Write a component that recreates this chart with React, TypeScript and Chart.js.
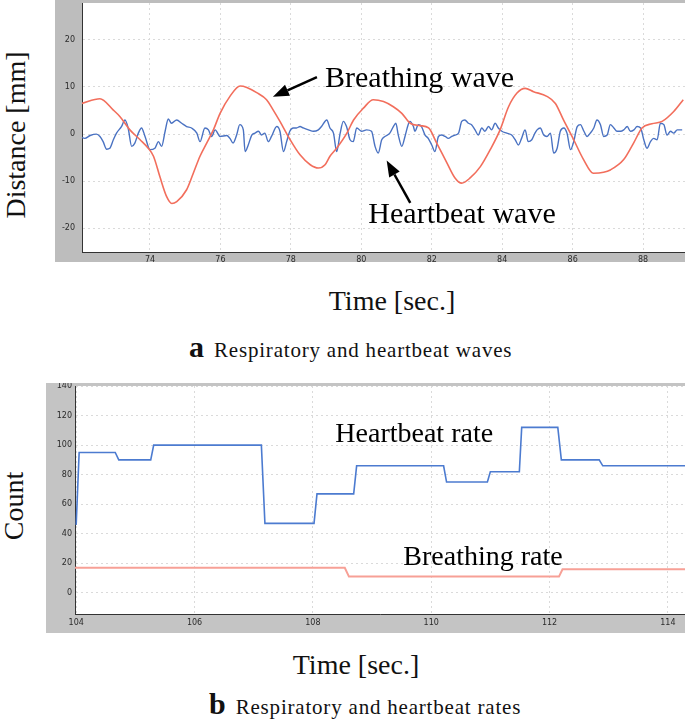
import { useEffect, useRef } from 'react';
import { Chart, registerables, type Plugin } from 'chart.js';

Chart.register(...registerables);

// (a) waves: time [s] against distance [mm]
const breathWaveT = [
  72.06, 72.58, 72.96, 73.15, 73.43, 73.72, 73.95, 74.1, 74.28, 74.47, 74.62, 74.76, 75.04, 75.23,
  75.42, 75.61, 75.8, 75.99, 76.27, 76.56, 76.75, 77.03, 77.31, 77.5, 77.69, 77.98, 78.26, 78.55,
  78.78, 78.97, 79.11, 79.3, 79.59, 79.78, 80.06, 80.34, 80.63, 80.91, 81.15, 81.39, 81.67, 81.91,
  82.14, 82.43, 82.66, 82.85, 83.09, 83.38, 83.66, 83.94, 84.18, 84.42, 84.65, 84.89, 85.27, 85.51,
  85.74, 86.03, 86.31, 86.59, 86.88, 87.07, 87.45, 87.73, 87.97, 88.25, 88.54, 88.87, 89.14,
];
const breathWaveV = [
  6.5, 7.5, 5.1, 3.7, 0.9, -1.2, -3.0, -4.7, -9.0, -13.2, -14.7, -14.3, -11.8, -8.3,
  -4.7, -1.9, 0.9, 4.4, 8.0, 10.2, 9.9, 8.8, 7.3, 5.1, 2.7, -1.2, -4.4, -6.5,
  -7.2, -6.5, -4.7, -3.0, 0.2, 3.0, 5.5, 7.3, 6.9, 5.8, 4.4, 2.3, 1.8, 1.3,
  -1.9, -6.1, -9.3, -10.4, -9.3, -6.9, -3.3, 0.9, 5.8, 8.7, 9.7, 9.0, 8.0, 6.5,
  3.0, -1.2, -5.4, -8.3, -8.1, -7.6, -5.4, -1.9, 1.3, 2.2, 2.7, 4.8, 7.3,
];

const heartWaveT = [
  72.01, 72.15, 72.3, 72.48, 72.58, 72.67, 72.77, 72.86, 72.96, 73.05, 73.19, 73.29, 73.38, 73.48,
  73.57, 73.67, 73.76, 73.86, 74.0, 74.14, 74.24, 74.33, 74.43, 74.52, 74.61, 74.76, 74.9, 75.04,
  75.18, 75.33, 75.42, 75.56, 75.66, 75.75, 75.85, 75.99, 76.18,
  76.27, 76.36, 76.46, 76.55, 76.65, 76.7, 76.79, 76.89, 76.98, 77.08, 77.17, 77.26, 77.36, 77.45,
  77.6, 77.69, 77.79, 77.88, 77.97, 78.07, 78.16, 78.26, 78.35, 78.5, 78.64, 78.78, 78.87, 79.02,
  79.11, 79.21, 79.3, 79.4, 79.49, 79.58, 79.68, 79.77, 79.87, 80.01, 80.15, 80.29, 80.39, 80.48,
  80.58, 80.67,
  80.81, 80.91, 80.98, 81.05, 81.15, 81.24, 81.33, 81.38, 81.48, 81.52, 81.62, 81.71, 81.81, 81.9,
  82.0, 82.09, 82.19, 82.28, 82.38, 82.47, 82.57, 82.66, 82.76, 82.85, 82.94, 83.04, 83.13, 83.23,
  83.32, 83.42, 83.51, 83.61, 83.7, 83.8, 83.89, 83.99, 84.13, 84.27, 84.37, 84.46, 84.55, 84.65,
  84.74, 84.84, 84.93,
  84.99, 85.08, 85.18, 85.27, 85.37, 85.46, 85.56, 85.65, 85.75, 85.84, 85.94, 86.03, 86.13, 86.22,
  86.32, 86.41, 86.5, 86.6, 86.69, 86.79, 86.88, 86.98, 87.07, 87.17, 87.26, 87.36, 87.45, 87.55,
  87.64, 87.74, 87.83, 87.93, 88.02, 88.11, 88.21, 88.3, 88.4, 88.49, 88.59, 88.68, 88.78, 88.87,
  88.97, 89.11,
];
const heartWaveV = [
  -0.5, -0.9, -0.3, 0.0, -0.5, -1.6, -3.2, -3.0, -1.2, 0.2, 1.6, 3.0, 1.3, -2.6,
  -1.9, 0.2, 1.3, -0.5, -3.3, -3.0, -1.6, -2.6, 0.6, 3.2, 2.3, 3.0, 2.3, 1.6,
  1.3, 0.2, -1.6, 1.3, 0.9, -0.5, 0.9, -0.5, -0.3,
  -0.9, -1.9, -0.2, 2.0, 0.9, -3.7, -2.3, -0.2, 0.2, 0.6, -0.2, 0.2, -1.6, -0.5,
  1.6, 0.6, -3.7, -1.6, 0.6, 1.3, 1.3, 1.6, 1.3, 0.9, 0.6, 0.9, 1.6, 3.0,
  1.3, 0.2, -3.7, 0.2, 2.7, 1.6, -1.2, -1.6, 1.3, 0.6, 0.9, 0.6, -2.6, -4.0,
  -1.2, -0.5,
  0.2, 1.6, 2.3, -0.2, -2.6, -0.5, 2.0, 2.7, 1.6, 0.6, 2.0, 1.6, -0.2, -0.9,
  -2.3, -3.7, -0.5, -0.2, -0.5, -0.9, -0.5, -0.2, 0.2, 2.7, 3.0, 2.3, 2.0, 0.9,
  -0.2, 1.3, 0.6, 1.6, 0.9, 2.3, 1.3, 0.6, 0.2, -0.2, -1.2, -2.3, -0.9, 0.9,
  -1.6, -1.2, 0.2,
  0.9, 1.3, -0.2, -0.5, 0.2, -4.0, -3.0, 0.6, 1.3, 0.2, -3.3, -1.6, 1.6, 2.0,
  0.6, -0.5, 0.2, 1.3, 3.0, 2.0, -0.5, -0.2, 2.0, 1.3, 0.6, 0.6, 0.9, 1.6,
  0.6, 0.9, 1.6, 1.3, -1.2, -3.0, -1.6, -0.9, -1.2, 2.3, 2.0, -0.2, 0.6, 0.2,
  0.9, 0.9,
];
const waveXTicks = [74, 76, 78, 80, 82, 84, 86, 88];
const waveYTicks = [-20, -10, 0, 10, 20];

// (b) rates: time [s] against count
const heartRateT = [
  104.0, 104.05, 104.66, 104.72, 105.26, 105.31, 107.13, 107.19, 108.02, 108.07, 108.69, 108.74,
  110.21, 110.26, 110.95, 111.0, 111.49, 111.53, 112.14, 112.2, 112.84, 112.9, 114.3,
];
const heartRateV = [46, 95, 95, 90, 90, 100, 100, 47, 47, 67, 67, 86, 86, 75, 75, 82, 82, 112, 112, 90, 90, 86, 86];
const breathRateT = [103.98, 108.54, 108.61, 112.16, 112.22, 114.3];
const breathRateV = [17, 17, 11, 11, 16, 16];
const rateXTicks = [104, 106, 108, 110, 112, 114];
const rateYTicks = [0, 20, 40, 60, 80, 100, 120, 140];

type Note = { text: string; x: number; y: number; arrow?: [number, number, number, number] };

const waveNotes: Note[] = [
  { text: 'Breathing wave', x: 78.97, y: 9.9, arrow: [78.74, 12.1, 77.49, 7.9] },
  { text: 'Heartbeat wave', x: 80.2, y: -18.75, arrow: [81.39, -14.6, 80.72, -5.6] },
];
const rateNotes: Note[] = [
  { text: 'Heartbeat rate', x: 108.38, y: 102.3 },
  { text: 'Breathing rate', x: 109.53, y: 18.8 },
];

const serif = '"Liberation Serif", "Times New Roman", serif';

const framePlugin = (gray: string): Plugin => ({
  id: 'frame',
  beforeDraw(chart) {
    const { ctx, chartArea: a, width, height } = chart;
    ctx.save();
    ctx.fillStyle = gray;
    ctx.fillRect(0, 0, width, height);
    ctx.fillStyle = '#fff';
    ctx.fillRect(a.left, a.top, a.right - a.left, a.bottom - a.top);
    ctx.restore();
  },
});

const notesPlugin = (notes: Note[], size: number): Plugin => ({
  id: 'notes',
  afterDatasetsDraw(chart) {
    const { ctx } = chart;
    const x = chart.scales.x;
    const y = chart.scales.y;
    ctx.save();
    ctx.fillStyle = '#000';
    ctx.strokeStyle = '#000';
    ctx.font = `${size}px ${serif}`;
    ctx.textBaseline = 'alphabetic';
    for (const n of notes) {
      ctx.fillText(n.text, x.getPixelForValue(n.x), y.getPixelForValue(n.y));
      if (!n.arrow) continue;
      const ax = x.getPixelForValue(n.arrow[0]);
      const ay = y.getPixelForValue(n.arrow[1]);
      const bx = x.getPixelForValue(n.arrow[2]);
      const by = y.getPixelForValue(n.arrow[3]);
      const ang = Math.atan2(by - ay, bx - ax);
      const hx = bx - 16 * Math.cos(ang);
      const hy = by - 16 * Math.sin(ang);
      ctx.lineWidth = 2.5;
      ctx.beginPath();
      ctx.moveTo(ax, ay);
      ctx.lineTo(hx, hy);
      ctx.stroke();
      ctx.beginPath();
      ctx.moveTo(bx, by);
      ctx.lineTo(hx + 6 * Math.sin(ang), hy - 6 * Math.cos(ang));
      ctx.lineTo(hx - 6 * Math.sin(ang), hy + 6 * Math.cos(ang));
      ctx.closePath();
      ctx.fill();
    }
    ctx.restore();
  },
});

type Series = { t: number[]; v: number[]; color: string; width: number; smooth?: boolean };

type PanelProps = {
  series: Series[];
  xRange: [number, number];
  yRange: [number, number];
  xTicks: number[];
  yTicks: number[];
  notes: Note[];
  noteSize: number;
  gray: string;
  stripLeft: number;
  stripBottom: number;
  yPad: number;
  xPad: number;
  width: number;
  height: number;
};

function Panel(p: PanelProps) {
  const canvasRef = useRef<HTMLCanvasElement>(null);

  useEffect(() => {
    if (!canvasRef.current) return;
    const tickFont = { family: '"DejaVu Sans", sans-serif', size: 8 };

    const chart = new Chart(canvasRef.current, {
      type: 'line',
      data: {
        datasets: p.series.map((s) => ({
          data: s.t.map((t, i) => ({ x: t, y: s.v[i] })),
          borderColor: s.color,
          borderWidth: s.width,
          pointRadius: 0,
          tension: 0,
          cubicInterpolationMode: s.smooth ? 'monotone' : 'default',
          fill: false,
        })),
      },
      options: {
        animation: false,
        responsive: false,
        layout: { padding: { top: 3, left: 0, right: 0, bottom: 0 } },
        plugins: { legend: { display: false }, tooltip: { enabled: false } },
        scales: {
          x: {
            type: 'linear',
            min: p.xRange[0],
            max: p.xRange[1],
            afterBuildTicks: (s) => {
              s.ticks = p.xTicks.map((value) => ({ value }));
            },
            afterFit: (s) => {
              s.height = p.stripBottom;
              s.paddingLeft = 0;
              s.paddingRight = 0;
            },
            ticks: {
              font: tickFont,
              color: '#2a2a2a',
              padding: p.xPad,
              maxRotation: 0,
              autoSkip: false,
              callback: (v) => String(v),
            },
            grid: { color: '#dadada', drawTicks: false },
            border: { color: '#333', dash: [2, 3] },
          },
          y: {
            type: 'linear',
            min: p.yRange[0],
            max: p.yRange[1],
            afterBuildTicks: (s) => {
              s.ticks = p.yTicks.map((value) => ({ value }));
            },
            afterFit: (s) => {
              s.width = p.stripLeft;
              s.paddingTop = 0;
              s.paddingBottom = 0;
            },
            ticks: {
              font: tickFont,
              color: '#2a2a2a',
              padding: p.yPad,
              autoSkip: false,
              callback: (v) => String(v),
            },
            grid: { color: '#dadada', drawTicks: false },
            border: { color: '#333', dash: [2, 3] },
          },
        },
      },
      plugins: [framePlugin(p.gray), notesPlugin(p.notes, p.noteSize)],
    });

    return () => {
      chart.destroy();
    };
  }, []);

  return (
    <canvas
      ref={canvasRef}
      width={p.width}
      height={p.height}
      style={{ display: 'block', width: p.width, height: p.height }}
    />
  );
}

const abs = (left: number, top: number) => ({ position: 'absolute' as const, left, top });

function HTitle({ text, x, y }: { text: string; x: number; y: number }) {
  return (
    <div style={{ ...abs(x, y), transform: 'translate(-50%, -50%)', fontSize: 28, lineHeight: 1, whiteSpace: 'nowrap' }}>
      {text}
    </div>
  );
}

function VTitle({ text, x, y }: { text: string; x: number; y: number }) {
  return (
    <div
      style={{
        ...abs(x, y),
        transform: 'translate(-50%, -50%) rotate(-90deg)',
        fontSize: 28,
        lineHeight: 1,
        whiteSpace: 'nowrap',
      }}
    >
      {text}
    </div>
  );
}

function Caption({ letter, text, left, top }: { letter: string; text: string; left: number; top: number }) {
  return (
    <div style={{ ...abs(left, top), fontSize: 21, lineHeight: '30px', whiteSpace: 'nowrap', letterSpacing: 0.8 }}>
      <span style={{ fontWeight: 'bold', fontSize: 30, letterSpacing: 0, marginRight: 10 }}>{letter}</span>
      {text}
    </div>
  );
}

export default function App() {
  return (
    <div
      style={{
        position: 'absolute',
        left: 0,
        top: 0,
        width: 685,
        height: 720,
        overflow: 'hidden',
        background: '#fff',
        color: '#111',
        fontFamily: serif,
      }}
    >
      <div style={abs(55, 0)}>
        <Panel
          series={[
            { t: breathWaveT, v: breathWaveV, color: '#f26e5c', width: 1.6, smooth: true },
            { t: heartWaveT, v: heartWaveV, color: '#4a72c2', width: 1.4, smooth: true },
          ]}
          xRange={[72.07, 89.19]}
          yRange={[-25, 27.8]}
          xTicks={waveXTicks}
          yTicks={waveYTicks}
          notes={waveNotes}
          noteSize={30}
          gray="#bdbdbd"
          stripLeft={27}
          stripBottom={10}
          yPad={7}
          xPad={3}
          width={630}
          height={262}
        />
      </div>
      <VTitle text="Distance [mm]" x={16} y={135} />
      <HTitle text="Time [sec.]" x={392} y={301} />
      <Caption letter="a" text="Respiratory and heartbeat waves" left={189} top={332} />

      <div style={abs(46, 383)}>
        <Panel
          series={[
            { t: heartRateT, v: heartRateV, color: '#4c7bd0', width: 1.6 },
            { t: breathRateT, v: breathRateV, color: '#f7a096', width: 2 },
          ]}
          xRange={[103.98, 114.29]}
          yRange={[-14.3, 140]}
          xTicks={rateXTicks}
          yTicks={rateYTicks}
          notes={rateNotes}
          noteSize={28}
          gray="#c4c4c4"
          stripLeft={29}
          stripBottom={19}
          yPad={3}
          xPad={4}
          width={639}
          height={250}
        />
      </div>
      <VTitle text="Count" x={14} y={506} />
      <HTitle text="Time [sec.]" x={356} y={665} />
      <Caption letter="b" text="Respiratory and heartbeat rates" left={209} top={689} />
    </div>
  );
}
